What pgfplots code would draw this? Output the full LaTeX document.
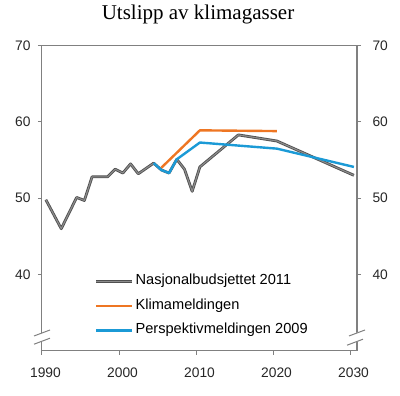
\documentclass[border=0pt]{standalone}
\usepackage{pgfplots}
\pgfplotsset{compat=1.18}
\usepackage{fontspec}
\setmainfont{Liberation Sans}
\newfontfamily\titlefont{Liberation Serif}
\definecolor{axgray}{HTML}{808080}
\definecolor{orn}{HTML}{EE7623}
\definecolor{blu}{HTML}{1B9AD6}
\definecolor{gdark}{HTML}{505050}
\definecolor{glight}{HTML}{8C8C8C}
\pgfplotsset{
  common/.style={
    at={(0,0)}, anchor=south west,
    scale only axis, width=315pt, height=305pt,
    xmin=1990, xmax=2030.9, ymin=30, ymax=70,
    tick align=outside, major tick length=4pt,
    axis line style={axgray, line width=1pt},
    every tick/.style={axgray, line width=1pt},
    tick label style={font=\fontsize{13.8}{15}\selectfont, text=black!85},
    /pgf/number format/assume math mode=true,
    /pgf/number format/1000 sep={},
  }
}
\begin{document}
\begin{tikzpicture}[x=1pt,y=1pt]
\useasboundingbox (-42,-45.3) rectangle (358,350.7);
\begin{axis}[common,
  xtick={1990,2000,2010,2020,2030}, ytick={40,50,60,70},
  xtick pos=bottom, ytick pos=both, yticklabel pos=left,
  xticklabel style={xshift=3.5pt, yshift=-10pt},
  yticklabel style={xshift=-4pt},
  legend style={draw=none, fill=none, at={(0.167,0.256)}, anchor=north west,
    inner sep=0pt, row sep=7.5pt,
    font=\fontsize{14.6}{16}\selectfont,
    nodes={text height=10pt, text depth=3pt, inner sep=2pt}},
  legend cell align=left,
  legend image code/.code={\draw[#1] (0pt,0pt) -- (36pt,0pt);},
]
\addplot[gdark, line width=2.8pt, line join=round, forget plot] table {
1990.5 49.8
1992.5 46.0
1994.5 50.1
1995.5 49.7
1996.5 52.8
1998.5 52.8
1999.5 53.8
2000.5 53.3
2001.5 54.5
2002.5 53.2
2004.5 54.6
2005.5 53.7
2006.5 53.3
2007.5 55.1
2008.5 53.8
2009.5 50.9
2010.5 54.1
2015.5 58.3
2020.5 57.5
2030.5 53.0
};
\addplot[glight, line width=1.1pt, line join=round,
  legend image code/.code={\draw[gdark,line width=2.8pt] (0pt,0pt) -- (36pt,0pt); \draw[glight,line width=1.1pt] (0pt,0pt) -- (36pt,0pt);}] table {
1990.5 49.8
1992.5 46.0
1994.5 50.1
1995.5 49.7
1996.5 52.8
1998.5 52.8
1999.5 53.8
2000.5 53.3
2001.5 54.5
2002.5 53.2
2004.5 54.6
2005.5 53.7
2006.5 53.3
2007.5 55.1
2008.5 53.8
2009.5 50.9
2010.5 54.1
2015.5 58.3
2020.5 57.5
2030.5 53.0
};
\addlegendentry{Nasjonalbudsjettet 2011}
\addplot[orn, line width=2.4pt, line join=round] table {
2005.5 54.0
2010.5 58.9
2020.5 58.8
};
\addlegendentry{Klimameldingen}
\addplot[blu, line width=2.4pt, line join=round] table {
2004.5 54.6
2005.5 53.7
2006.5 53.3
2007.5 55.1
2010.5 57.3
2020.5 56.5
2030.5 54.1
};
\addlegendentry{Perspektivmeldingen 2009}
\end{axis}
\begin{axis}[common,
  axis x line=none, axis y line*=right,
  ytick={40,50,60,70}, yticklabel pos=right,
  yticklabel style={xshift=8pt},
]
\end{axis}
% axis breaks
\fill[white] (-8,6.5) -- (8,12.5) -- (8,20.7) -- (-8,14.7) -- cycle;
\draw[axgray, line width=1pt] (-8,6.5) -- (8,12.5);
\draw[axgray, line width=1pt] (-8,14.7) -- (8,20.7);
\fill[white] (306,5.5) -- (322,11.5) -- (322,20.7) -- (306,14.7) -- cycle;
\draw[axgray, line width=1pt] (305,5.5) -- (321,11.5);
\draw[axgray, line width=1pt] (307,14.7) -- (323,20.7);
\node[anchor=base, font=\titlefont\fontsize{21}{24}\selectfont] at (156,331) {Utslipp av klimagasser};
\end{tikzpicture}
\end{document}
